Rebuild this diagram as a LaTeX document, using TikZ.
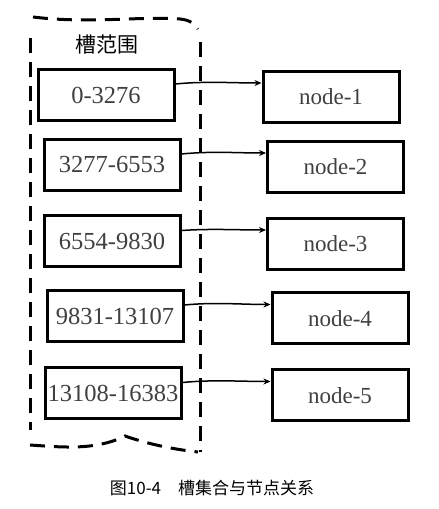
\documentclass[tikz,border=0pt]{standalone}
\usepackage{fontspec}
\setmainfont{Liberation Serif}
\newfontfamily\cjk{Noto Sans CJK SC}
\usetikzlibrary{arrows, arrows.meta, positioning}
\tikzstyle{slotbox} = [rectangle, minimum width=136pt, minimum height=51pt, inner xsep=1pt, text centered, draw=black, line width=3pt, text=black!75, font=\fontsize{24.5}{28}\selectfont]
\tikzstyle{nodebox} = [rectangle, minimum width=136pt, minimum height=51pt, text centered, draw=black, line width=3pt, text=black!75, font=\fontsize{23}{27}\selectfont]
\tikzstyle{arrow} = [line width=1.5pt,-{Stealth[length=7pt,width=6pt]}]
\tikzstyle{frame} = [line width=3pt, dash pattern=on 15pt off 9pt]

\begin{document}
\begin{tikzpicture}[x=1pt, y=1pt]
\useasboundingbox (0,0) rectangle (439,509);

% Slot range frame
\draw [frame] (30,471) -- (30,79);
\draw [frame] (200,467) -- (200,57);
\draw [frame] (33,492) .. controls (90,485) and (140,493) .. (180,490) .. controls (190,489) and (195,485) .. (198,480);
\draw [frame] (30,64) .. controls (60,62) and (95,58) .. (125,73) .. controls (145,66) and (170,60) .. (198,57);
\node (title) at (107,464) {\cjk\fontsize{21}{25}\selectfont 槽范围};

% Slots
\node (slot1) [slotbox] at (106,414) {0-3276};
\node (slot2) [slotbox] at (112,344) {3277-6553};
\node (slot3) [slotbox] at (112,267.5) {6554-9830};
\node (slot4) [slotbox] at (115,193) {9831-13107};
\node (slot5) [slotbox] at (113,115.5) {13108-16383};

% Nodes
\node (node1) [nodebox] at (331,412) {node-1};
\node (node2) [nodebox] at (335.5,342) {node-2};
\node (node3) [nodebox] at (335.5,265) {node-3};
\node (node4) [nodebox] at (340,190.5) {node-4};
\node (node5) [nodebox] at (340,113.5) {node-5};

% Arrows
\draw [arrow] ([yshift=11pt]slot1.east) .. controls +(30,3) and +(-30,0) .. ([yshift=14pt]node1.west);
\draw [arrow] ([yshift=11pt]slot2.east) .. controls +(30,3) and +(-30,0) .. ([yshift=14pt]node2.west);
\draw [arrow] ([yshift=11pt]slot3.east) .. controls +(30,2) and +(-30,0) .. ([yshift=14pt]node3.west);
\draw [arrow] ([yshift=11pt]slot4.east) .. controls +(30,3) and +(-30,0) .. ([yshift=14pt]node4.west);
\draw [arrow] ([yshift=11pt]slot5.east) .. controls +(30,3) and +(-30,0) .. ([yshift=14pt]node5.west);

% Caption
\node (caption) at (212,21) {\cjk\fontsize{17}{20}\selectfont 图10-4\quad 槽集合与节点关系};

\end{tikzpicture}
\end{document}
